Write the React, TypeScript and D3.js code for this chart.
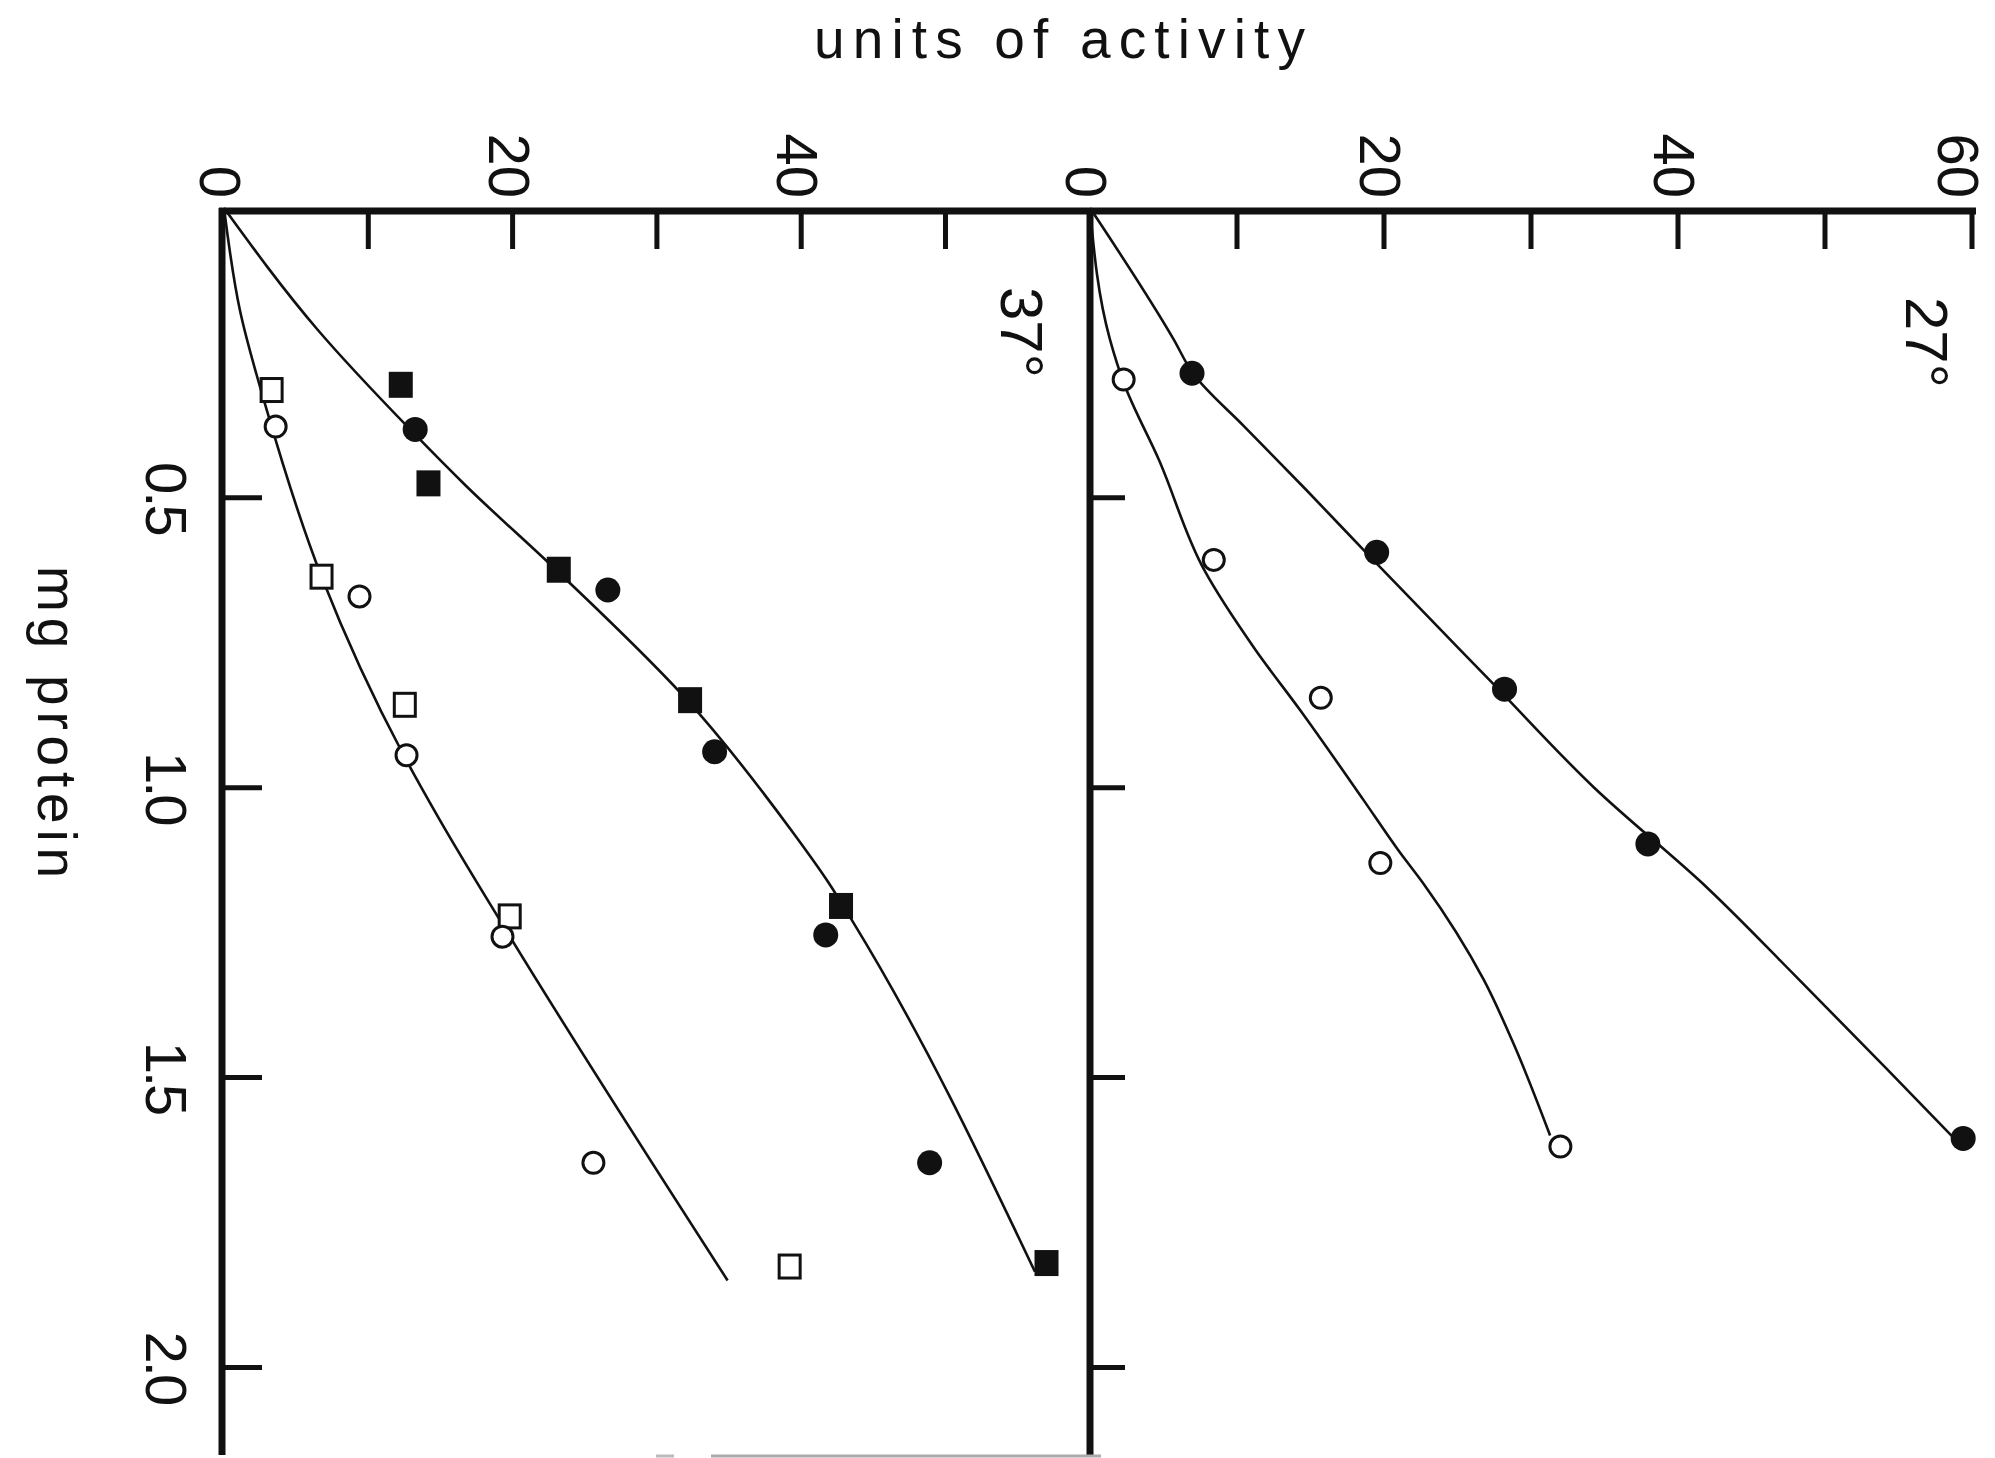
import React from "react";
import * as d3 from "d3";

// ---- data: units of activity vs. mg protein ----
// 37° panel
const mgFilledSq37 = [0.305, 0.475, 0.624, 0.849, 1.204, 1.82];
const unFilledSq37 = [12.25, 14.17, 23.2, 32.3, 42.76, 57.0];
const mgFilledCi37 = [0.382, 0.659, 0.938, 1.254, 1.647];
const unFilledCi37 = [13.25, 26.6, 34.0, 41.7, 48.9];
const mgOpenSq37 = [0.314, 0.636, 0.857, 1.222, 1.826];
const unOpenSq37 = [3.3, 6.76, 12.53, 19.8, 39.2];
const mgOpenCi37 = [0.377, 0.67, 0.944, 1.257, 1.647];
const unOpenCi37 = [3.58, 9.39, 12.65, 19.3, 25.6];

// fitted curves, 37°
const mgUpperCurve37 = [0, 0.21, 0.382, 0.48, 0.624, 0.849, 1.073, 1.164, 1.228, 1.835];
const unUpperCurve37 = [0, 6.49, 12.9, 16.8, 23.0, 32.1, 39.3, 41.9, 43.5, 56.2];
const mgLowerCurve37 = [0, 0.176, 0.343, 0.636, 0.944, 1.056, 1.24, 1.85];
const unLowerCurve37 = [0, 1.1, 2.9, 6.76, 12.45, 14.96, 19.4, 34.9];

// 27° panel
const mgFilledCi27 = [0.285, 0.594, 0.83, 1.097, 1.605];
const unFilledCi27 = [6.94, 19.5, 28.2, 37.95, 59.4];
const mgOpenCi27 = [0.296, 0.607, 0.845, 1.13, 1.619];
const unOpenCi27 = [2.29, 8.42, 15.7, 19.75, 32.0];

// fitted curves, 27°
const mgUpperCurve27 = [0, 0.227, 0.285, 0.377, 0.486, 0.595, 0.82, 1.0, 1.173, 1.325, 1.485, 1.608];
const unUpperCurve27 = [0, 5.7, 7.0, 10.5, 14.7, 18.8, 27.4, 34.3, 42.0, 48.0, 54.2, 58.9];
const mgLowerCurve27 = [0, 0.227, 0.302, 0.435, 0.624, 0.762, 0.866, 1.021, 1.107, 1.166, 1.332, 1.441, 1.6];
const unLowerCurve27 = [0, 1.36, 2.3, 4.7, 7.76, 11.25, 14.29, 18.6, 20.95, 22.7, 26.8, 28.8, 31.3];

// axes
const mgTicks = [0.5, 1.0, 1.5, 2.0];
const mgTickLabels = ["0.5", "1.0", "1.5", "2.0"];
const unitMinorTicks = [10, 20, 30, 40, 50, 60];
const leftUnitLabels = [0, 20, 40];
const rightUnitLabels = [0, 20, 40, 60];
const panelLabels = ["37°", "27°"];
const titleText = "units of activity";
const mgAxisTitle = "mg protein";

const W = 1995;
const H = 1458;
const FONT = "'Liberation Sans', Arial, Helvetica, sans-serif";

// protein (mg) runs down the page, activity runs across it
const mg = d3.scaleLinear().domain([0, 2]).range([208, 1367.4]);
const uLeft = d3.scaleLinear().domain([0, 60]).range([224, 1089.8]);
const uRight = d3.scaleLinear().domain([0, 60]).range([1090, 1972]);

const zip = (a: number[], b: number[]) => a.map((m, i) => [m, b[i]] as [number, number]);

function curvePath(scale: d3.ScaleLinear<number, number>, m: number[], u: number[]) {
  const line = d3
    .line<[number, number]>()
    .x((d) => scale(d[1]))
    .y((d) => mg(d[0]))
    .curve(d3.curveMonotoneY);
  return line(zip(m, u)) || "";
}

const TICK_FS = 58;
const CAP = TICK_FS * 0.716;

// centre of a rotated activity label, kept clear of the page edge
const labelCentre = (x: number) => Math.min(x, W - 12 - CAP / 2) - 3;

export default function App() {
  const axisTop = mg(0) + 3;
  const axisBottom = 1455;
  const leftX = uLeft(0) - 2;
  const midX = uRight(0);

  const circles = (scale: d3.ScaleLinear<number, number>, m: number[], u: number[], filled: boolean, key: string) =>
    zip(m, u).map(([a, b], i) => (
      <circle
        key={key + i}
        cx={scale(b)}
        cy={mg(a)}
        r={filled ? 12.5 : 10.5}
        fill={filled ? "#111" : "#fff"}
        stroke="#111"
        strokeWidth={filled ? 0 : 3}
      />
    ));

  const squares = (scale: d3.ScaleLinear<number, number>, m: number[], u: number[], filled: boolean, key: string) =>
    zip(m, u).map(([a, b], i) => {
      const w = filled ? 24 : 21;
      const h = filled ? 26 : 23;
      return (
        <rect
          key={key + i}
          x={scale(b) - w / 2}
          y={mg(a) - h / 2}
          width={w}
          height={h}
          fill={filled ? "#111" : "#fff"}
          stroke="#111"
          strokeWidth={filled ? 0 : 3}
        />
      );
    });

  const unitLabel = (scale: d3.ScaleLinear<number, number>, t: number, key: string) => (
    <text
      key={key + t}
      transform={`translate(${labelCentre(scale(t)) - CAP / 2}, 198) rotate(90)`}
      fontFamily={FONT}
      fontSize={TICK_FS}
      textAnchor="end"
      fill="#111"
    >
      {t}
    </text>
  );

  return (
    <svg
      width={W}
      height={H}
      viewBox={`0 0 ${W} ${H}`}
      style={{ position: "absolute", left: 0, top: 0, display: "block", background: "#fff" }}
    >
      <rect x={0} y={0} width={W} height={H} fill="#fff" />

      {/* title */}
      <text
        x={814}
        y={58}
        fontFamily={FONT}
        fontSize={55}
        textLength={491}
        lengthAdjust="spacing"
        fill="#111"
      >
        {titleText}
      </text>

      {/* protein axis title */}
      <text
        transform={`translate(38, 722) rotate(90)`}
        fontFamily={FONT}
        fontSize={55}
        textAnchor="middle"
        textLength={312}
        lengthAdjust="spacing"
        fill="#111"
      >
        {mgAxisTitle}
      </text>

      {/* frame lines */}
      <line x1={leftX - 3} x2={uRight(60) + 4} y1={axisTop} y2={axisTop} stroke="#111" strokeWidth={7} />
      <line x1={leftX} x2={leftX} y1={axisTop - 3} y2={axisBottom} stroke="#111" strokeWidth={7} />
      <line x1={midX} x2={midX} y1={axisTop - 3} y2={axisBottom} stroke="#111" strokeWidth={7} />
      <line x1={656} x2={674} y1={1456} y2={1456} stroke="#bbb" strokeWidth={3} />
      <line x1={711} x2={1101} y1={1456} y2={1456} stroke="#aaa" strokeWidth={3} />

      {/* activity ticks along the top */}
      {unitMinorTicks.map((t) => (
        <line key={"tl" + t} x1={uLeft(t)} x2={uLeft(t)} y1={axisTop} y2={axisTop + 38} stroke="#111" strokeWidth={5} />
      ))}
      {unitMinorTicks.map((t) => (
        <line key={"tr" + t} x1={uRight(t)} x2={uRight(t)} y1={axisTop} y2={axisTop + 38} stroke="#111" strokeWidth={5} />
      ))}
      {leftUnitLabels.map((t) => unitLabel(uLeft, t, "ll"))}
      {rightUnitLabels.map((t) => unitLabel(uRight, t, "rl"))}

      {/* protein ticks on both panel axes */}
      {mgTicks.map((t) => (
        <g key={"mt" + t}>
          <line x1={leftX} x2={leftX + 40} y1={mg(t)} y2={mg(t)} stroke="#111" strokeWidth={5} />
          <line x1={midX} x2={midX + 35} y1={mg(t)} y2={mg(t)} stroke="#111" strokeWidth={5} />
        </g>
      ))}
      {mgTicks.map((t, i) => (
        <text
          key={"ml" + t}
          transform={`translate(146, ${mg(t)}) rotate(90)`}
          fontFamily={FONT}
          fontSize={TICK_FS}
          textAnchor="middle"
          letterSpacing={-3}
          fill="#111"
        >
          {mgTickLabels[i]}
        </text>
      ))}

      {/* panel labels */}
      <text transform={`translate(1001, 287) rotate(90)`} fontFamily={FONT} fontSize={60} fill="#111">
        {panelLabels[0]}
      </text>
      <text transform={`translate(1906, 297) rotate(90)`} fontFamily={FONT} fontSize={60} fill="#111">
        {panelLabels[1]}
      </text>

      {/* fitted curves */}
      <g fill="none" stroke="#111" strokeWidth={2.6}>
        <path d={curvePath(uLeft, mgUpperCurve37, unUpperCurve37)} />
        <path d={curvePath(uLeft, mgLowerCurve37, unLowerCurve37)} />
        <path d={curvePath(uRight, mgUpperCurve27, unUpperCurve27)} />
        <path d={curvePath(uRight, mgLowerCurve27, unLowerCurve27)} />
      </g>

      {/* 37° points */}
      {squares(uLeft, mgOpenSq37, unOpenSq37, false, "os37")}
      {circles(uLeft, mgOpenCi37, unOpenCi37, false, "oc37")}
      {squares(uLeft, mgFilledSq37, unFilledSq37, true, "fs37")}
      {circles(uLeft, mgFilledCi37, unFilledCi37, true, "fc37")}

      {/* 27° points */}
      {circles(uRight, mgOpenCi27, unOpenCi27, false, "oc27")}
      {circles(uRight, mgFilledCi27, unFilledCi27, true, "fc27")}
    </svg>
  );
}
